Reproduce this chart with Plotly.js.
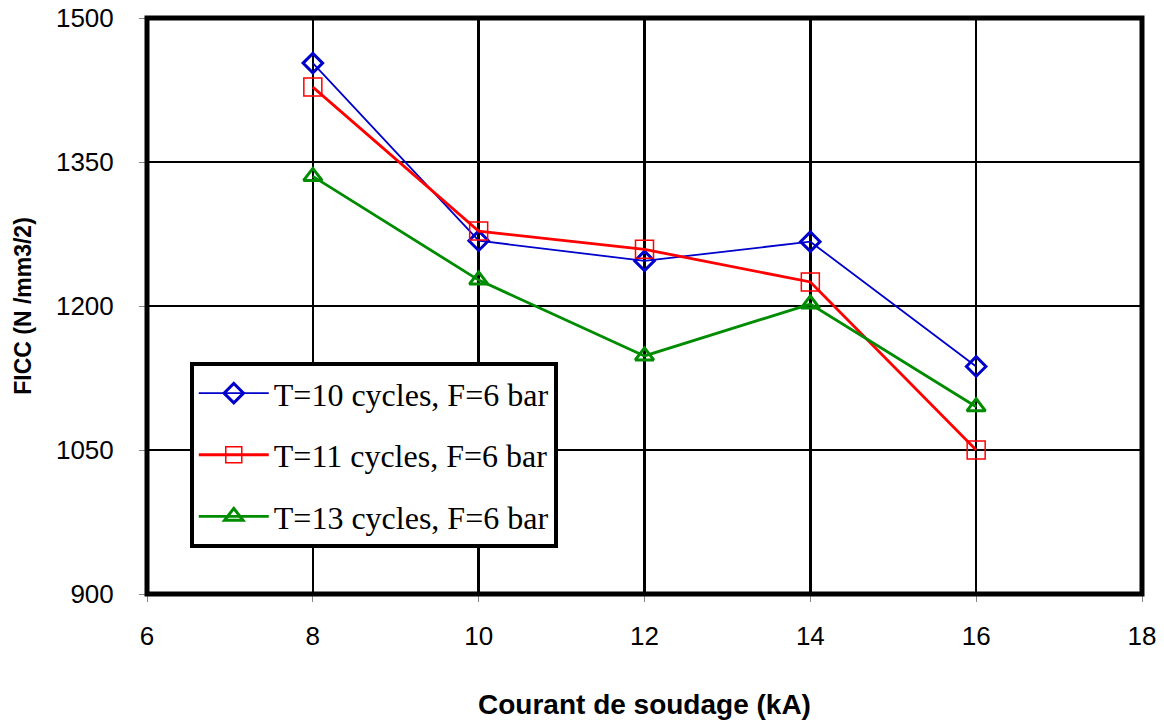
<!DOCTYPE html>
<html>
<head>
<meta charset="utf-8">
<script src="https://cdn.plot.ly/plotly-3.0.1.min.js"></script>
<style>html,body{margin:0;padding:0;background:#fff;}#chart{width:1164px;height:725px;}</style>
</head>
<body>
<div id="chart"></div>
<script>
const current = [8, 10, 12, 14, 16];
const ficcT10 = [1453, 1268, 1247, 1267, 1137];
const ficcT11 = [1428, 1278, 1259, 1225, 1050];
const ficcT13 = [1335, 1227, 1148, 1202, 1095];
const seriesNames = ["T=10 cycles, F=6 bar", "T=11 cycles, F=6 bar", "T=13 cycles, F=6 bar"];
const xTicks = [6, 8, 10, 12, 14, 16, 18];
const yTicks = [900, 1050, 1200, 1350, 1500];

const traces = [
  {x: current, y: ficcT10, name: seriesNames[0], mode: "lines+markers", legendgroup: "a",
   line: {color: "#0000CC", width: 1.8},
   marker: {symbol: "diamond-open", size: 15, color: "#0000CC", line: {width: 3, color: "#0000CC"}}},
  {x: current, y: ficcT11, name: seriesNames[1], mode: "lines+markers", legendgroup: "b",
   line: {color: "#FF0000", width: 2.8},
   marker: {symbol: "square-open", size: 18, color: "#FF0000", line: {width: 1.5, color: "#FF0000"}}},
  {x: current, y: ficcT13, name: seriesNames[2], mode: "lines+markers", legendgroup: "c",
   line: {color: "#008C00", width: 2.8},
   marker: {symbol: "triangle-up-open", size: 16, color: "#008C00", line: {width: 3, color: "#008C00"}}}
];

const layout = {
  width: 1164, height: 725,
  margin: {l: 147, r: 22, t: 18, b: 131},
  paper_bgcolor: "#fff", plot_bgcolor: "#fff",
  showlegend: true,
  legend: {
    x: 0.043, y: 0.403, xanchor: "left", yanchor: "top",
    bgcolor: "#fff", bordercolor: "#000", borderwidth: 4,
    font: {family: "Liberation Serif, Times New Roman, serif", size: 32, color: "#000"},
    traceorder: "grouped", tracegroupgap: 17, itemwidth: 70
  },
  xaxis: {
    range: [6, 18], tickvals: xTicks, ticktext: xTicks.map(String),
    showgrid: true, gridcolor: "#000", gridwidth: 2.5,
    zeroline: false, showline: true, linecolor: "#000", linewidth: 2, mirror: true,
    ticks: "outside", ticklen: 6, tickcolor: "#888", tickwidth: 1,
    ticklabelstandoff: 12,
    tickfont: {family: "Liberation Sans, Arial, sans-serif", size: 26, color: "#000"},
    title: {text: "Courant de soudage (kA)", standoff: 44,
            font: {family: "Liberation Sans, Arial, sans-serif", size: 28, color: "#000", weight: "bold"}}
  },
  yaxis: {
    range: [900, 1500], tickvals: yTicks, ticktext: yTicks.map(String),
    showgrid: true, gridcolor: "#000", gridwidth: 2.5,
    zeroline: false, showline: true, linecolor: "#000", linewidth: 2, mirror: true,
    ticks: "outside", ticklen: 6, tickcolor: "#888", tickwidth: 1,
    ticklabelstandoff: 20,
    tickfont: {family: "Liberation Sans, Arial, sans-serif", size: 26, color: "#000"},
    title: {text: "FICC (N /mm3/2)", standoff: 18,
            font: {family: "Liberation Sans, Arial, sans-serif", size: 23, color: "#000", weight: "bold"}}
  },
  shapes: [
    {type: "rect", xref: "paper", yref: "paper", x0: 0, x1: 1, y0: 0, y1: 1,
     line: {color: "#000", width: 5}, fillcolor: "rgba(0,0,0,0)", layer: "above"}
  ]
};

Plotly.newPlot("chart", traces, layout, {displayModeBar: false, staticPlot: true});
</script>
</body>
</html>
